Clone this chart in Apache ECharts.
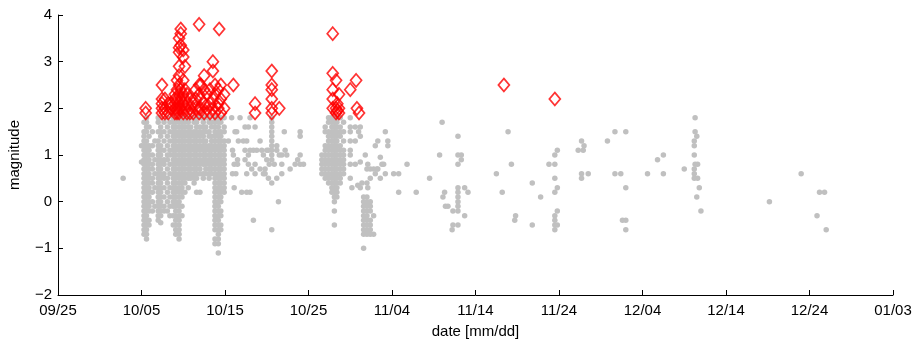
<!DOCTYPE html>
<html>
<head>
<meta charset="utf-8">
<title>magnitude vs date</title>
<script src="https://cdn.jsdelivr.net/npm/echarts@6.0.0/dist/echarts.min.js"></script>
<style>
  html, body { margin: 0; padding: 0; background: #fff; }
  #chart { width: 916px; height: 339px; }
</style>
</head>
<body>
<div id="chart"></div>
<script>
// x is days after 09/25, ticks every 10 days
const tickLabels = ['09/25', '10/05', '10/15', '10/25', '11/04', '11/14', '11/24', '12/04', '12/14', '12/24', '01/03']

// gray events, grouped by day: [day, [magnitudes]]
const grayCols = [
  [10.0, [1.2, 0.85]],
  [10.3, [1.7, 1.5, 1.4, 1.3, 1.2, 1.1, 1.0, 0.9, 0.8, 0.7, 0.6, 0.5, 0.4, 0.3, 0.2, 0.1, 0.0, -0.1, -0.2, -0.3, -0.4, -0.5, -0.6, -0.7]],
  [10.6, [1.8, 1.7, 1.6, 1.5, 1.3, 1.2, 1.1, 1.0, 0.9, 0.8, 0.7, 0.6, 0.5, 0.4, 0.3, 0.2, 0.1, 0.0, -0.1, -0.2, -0.3, -0.4, -0.5, -0.6, -0.7, -0.8]],
  [10.9, [1.6, 1.4, 1.2, 1.1, 1.0, 0.9, 0.8, 0.7, 0.6, 0.5, 0.4, 0.3, 0.2, 0.1, 0.0, -0.1, -0.2, -0.4, -0.5]],
  [11.3, [1.5, 1.2, 1.0, 0.8, 0.7, 0.5, 0.4, 0.2, 0.0, -0.2]],
  [11.6, [1.3, 0.9, 0.6, 0.3, -0.1]],
  [12.0, [1.8, 1.7, 1.5, 1.3, 1.2, 1.1, 1.0, 0.9, 0.8, 0.7, 0.6, 0.5, 0.4, 0.3, 0.2, 0.1, 0.0, -0.1, -0.2, -0.3, -0.4]],
  [12.3, [1.8, 1.6, 1.5, 1.4, 1.2, 1.1, 1.0, 0.9, 0.8, 0.7, 0.6, 0.5, 0.4, 0.3, 0.2, 0.1, 0.0, -0.1, -0.2, -0.3, -0.45]],
  [12.7, [1.7, 1.5, 1.3, 1.1, 0.9, 0.8, 0.6, 0.5, 0.3, 0.1, -0.1, -0.2]],
  [13.1, [1.8, 1.6, 1.4, 1.2, 1.0, 0.9, 0.7, 0.5, 0.4, 0.2, 0.0, -0.2]],
  [13.4, [1.7, 1.5, 1.3, 1.1, 1.0, 0.8, 0.6, 0.3, 0.1, -0.1, -0.3]],
  [13.8, [1.8, 1.7, 1.6, 1.5, 1.4, 1.3, 1.2, 1.1, 1.0, 0.9, 0.8, 0.7, 0.6, 0.5, 0.4, 0.3, 0.2, 0.1, 0.0, -0.1, -0.3, -0.5]],
  [14.1, [1.8, 1.7, 1.6, 1.5, 1.4, 1.3, 1.2, 1.1, 1.0, 0.9, 0.8, 0.7, 0.6, 0.5, 0.4, 0.3, 0.2, 0.1, 0.0, -0.1, -0.2, -0.3, -0.4, -0.5, -0.6, -0.7]],
  [14.5, [1.8, 1.7, 1.6, 1.5, 1.4, 1.3, 1.2, 1.1, 1.0, 0.9, 0.8, 0.7, 0.6, 0.5, 0.4, 0.3, 0.2, 0.1, 0.0, -0.1, -0.2, -0.3, -0.4, -0.5, -0.6, -0.7, -0.8]],
  [14.85, [1.8, 1.7, 1.6, 1.5, 1.4, 1.3, 1.2, 1.1, 1.0, 0.9, 0.8, 0.7, 0.6, 0.5, 0.4, 0.3, 0.2, 0.1, -0.1, -0.3]],
  [15.2, [1.8, 1.7, 1.6, 1.5, 1.4, 1.3, 1.2, 1.1, 1.0, 0.9, 0.8, 0.7, 0.6, 0.5, 0.4, 0.2]],
  [15.6, [1.8, 1.7, 1.6, 1.5, 1.4, 1.3, 1.2, 1.1, 1.0, 0.9, 0.8, 0.7, 0.6, 0.5, 0.3]],
  [15.9, [1.8, 1.6, 1.5, 1.4, 1.3, 1.2, 1.1, 1.0, 0.9, 0.8, 0.7, 0.6, 0.5]],
  [16.3, [1.8, 1.7, 1.5, 1.4, 1.3, 1.2, 1.1, 1.0, 0.9, 0.8, 0.7, 0.6, 0.5, 0.4]],
  [16.6, [1.8, 1.7, 1.6, 1.5, 1.4, 1.3, 1.2, 1.1, 1.0, 0.9, 0.8, 0.7, 0.6, 0.5, 0.2]],
  [17.0, [1.8, 1.6, 1.5, 1.4, 1.3, 1.2, 1.1, 1.0, 0.9, 0.8, 0.7, 0.6, 0.2]],
  [17.4, [1.8, 1.7, 1.6, 1.5, 1.4, 1.3, 1.2, 1.1, 1.0, 0.9, 0.8, 0.6, 0.5]],
  [17.7, [1.8, 1.6, 1.5, 1.3, 1.2, 1.1, 1.0, 0.9, 0.8, 0.7, 0.6]],
  [18.1, [1.8, 1.7, 1.5, 1.4, 1.2, 1.1, 1.0, 0.9, 0.8, 0.7, 0.6, 0.5]],
  [18.4, [1.7, 1.6, 1.4, 1.3, 1.2, 1.1, 1.0, 0.9, 0.8, 0.7, 0.6]],
  [18.8, [1.8, 1.7, 1.6, 1.5, 1.4, 1.3, 1.2, 1.1, 1.0, 0.9, 0.8, 0.7, 0.6, 0.5, 0.4, 0.3, 0.2, 0.1, 0.0, -0.1, -0.2, -0.3, -0.4, -0.5, -0.6, -0.8, -0.9]],
  [19.2, [1.8, 1.7, 1.6, 1.5, 1.4, 1.3, 1.2, 1.1, 1.0, 0.9, 0.8, 0.7, 0.6, 0.5, 0.4, 0.3, 0.2, 0.1, 0.0, -0.1, -0.2, -0.3, -0.4, -0.5, -0.6, -0.7, -0.8, -0.9, -1.1]],
  [19.5, [1.8, 1.7, 1.5, 1.4, 1.3, 1.2, 1.1, 1.0, 0.9, 0.8, 0.7, 0.6, 0.5, 0.4, 0.3, 0.2, 0.1, 0.0, -0.2, -0.3, -0.5, -0.6]],
  [19.9, [1.8, 1.6, 1.5, 1.3, 1.2, 1.1, 1.0, 0.9, 0.8, 0.7, 0.6, 0.5, 0.4, 0.3, 0.2]],
  [25.6, [1.8, 1.7, 1.6, 1.5, 1.4, 1.3, 1.2, 1.1, 1.0, 0.9]],
  [31.6, [1.0, 0.9, 0.8, 0.7, 0.6]],
  [32.0, [1.6, 1.5, 1.2, 1.1, 1.0, 0.9, 0.8, 0.7, 0.6, 0.5]],
  [32.4, [1.8, 1.7, 1.5, 1.4, 1.3, 1.2, 1.1, 1.0, 0.9, 0.8, 0.7, 0.6, 0.5, 0.4]],
  [32.8, [1.8, 1.7, 1.6, 1.5, 1.4, 1.3, 1.2, 1.1, 1.0, 0.9, 0.8, 0.7, 0.6, 0.5, 0.4, 0.3, 0.2]],
  [33.1, [1.8, 1.7, 1.6, 1.5, 1.4, 1.3, 1.2, 1.1, 1.0, 0.9, 0.8, 0.7, 0.6, 0.5, 0.4, 0.3, 0.2, 0.1, 0.0, -0.2, -0.5]],
  [33.4, [1.8, 1.7, 1.6, 1.5, 1.4, 1.3, 1.2, 1.1, 1.0, 0.9, 0.8, 0.7, 0.6, 0.5, 0.4, 0.3, 0.2, 0.1]],
  [33.8, [1.8, 1.6, 1.5, 1.4, 1.2, 1.1, 1.0, 0.9, 0.8, 0.7, 0.6, 0.5, 0.4]],
  [34.2, [1.7, 1.5, 1.3, 1.1, 1.0, 0.9, 0.8, 0.7, 0.6]],
  [36.6, [0.1, 0.0, -0.1, -0.2, -0.3, -0.4, -0.5, -0.6, -0.7, -1.0]],
  [37.0, [0.1, 0.0, -0.1, -0.2, -0.3, -0.4, -0.5, -0.6, -0.7]],
  [37.4, [0.0, -0.1, -0.2, -0.4, -0.5, -0.6, -0.7]],
  [37.8, [-0.3, -0.7]],
  [47.9, [0.3, 0.2, 0.1, 0.0, -0.1, -0.2]],
  [59.5, [-0.3, -0.4, -0.5, -0.6]],
  [76.2, [1.3, 1.2, 1.0, 0.7, 0.6, 0.5]],
]

// scattered gray events: [day, magnitude]
const grayDots = [
  [7.8, 0.5],
  [20.8, 1.8], [21.8, 1.8], [23.0, 1.8], [22.4, 1.6], [22.8, 1.6], [23.6, 1.6], [21.2, 1.5], [21.4, 1.5],
  [20.4, 1.3], [21.6, 1.3], [22.2, 1.3], [22.6, 1.3], [24.2, 1.3],
  [20.9, 1.1], [22.4, 1.1], [23.0, 1.1], [23.4, 1.1], [23.8, 1.1], [24.4, 1.1], [25.0, 1.1], [25.2, 1.1],
  [21.0, 1.0], [22.8, 1.0], [24.6, 1.0], [21.5, 0.9], [22.4, 0.9], [25.0, 0.9],
  [21.1, 0.8], [21.5, 0.8], [22.8, 0.8], [23.6, 0.8], [25.3, 0.8], [23.2, 0.7], [24.2, 0.7], [24.8, 0.7],
  [20.9, 0.6], [21.3, 0.6], [22.6, 0.6], [23.6, 0.6], [24.6, 0.6], [24.8, 0.6], [25.2, 0.5],
  [21.1, 0.3], [22.0, 0.2], [22.6, 0.2], [23.0, 0.2], [23.4, -0.4],
  [25.6, -0.6], [26.4, 0.0], [26.2, 1.2], [26.2, 1.1], [26.8, 1.0], [27.4, 1.0], [27.1, 1.5], [26.5, 1.0],
  [27.2, 1.1], [25.9, 0.8], [26.8, 0.8], [26.8, 0.6], [26.2, 0.5], [25.6, 0.4],
  [27.8, 0.7], [28.4, 0.8], [29.0, 0.8], [29.4, 0.8], [29.0, 1.0], [28.7, 0.9], [29.0, 1.5], [29.0, 1.4],
  [35.0, 1.8], [35.0, 1.6], [35.6, 1.6], [36.2, 1.6], [35.0, 1.5], [36.0, 1.5], [36.2, 1.4], [35.0, 1.3],
  [35.6, 1.3], [35.0, 1.1], [35.0, 1.0], [36.8, 1.0], [35.0, 0.8], [35.6, 0.8], [36.2, 0.85], [37.1, 0.8],
  [37.0, 0.7], [37.4, 0.7], [35.0, 0.5], [37.4, 0.5], [35.2, 0.3], [35.9, 0.35], [36.2, 0.3], [36.4, 0.4],
  [37.0, 0.4], [37.1, 0.3], [37.8, 0.7], [38.2, 0.7], [38.0, 0.6], [39.2, 0.6], [39.0, 0.8], [38.3, 1.3],
  [38.0, 1.2], [38.6, 0.95], [38.8, 0.8], [38.3, 0.7], [38.6, 0.5], [39.2, 1.5], [39.5, 1.3], [39.5, 1.2],
  [40.2, 0.6], [40.8, 0.6], [41.8, 0.8], [40.8, 0.2], [42.9, 0.2], [44.5, 0.5],
  [46.0, 1.7], [47.9, 1.4], [53.9, 1.5], [66.7, 1.5], [68.0, 1.5], [62.7, 1.3], [65.8, 1.3], [63.0, 1.2],
  [62.3, 1.1], [62.9, 1.1], [59.8, 1.1], [59.5, 1.0], [45.7, 1.0], [47.9, 1.0], [48.3, 1.0], [48.3, 0.9],
  [47.9, 0.8], [54.3, 0.8], [58.8, 0.8], [59.5, 0.8], [52.5, 0.6], [59.5, 0.5], [62.7, 0.6], [63.5, 0.6],
  [62.7, 0.5], [66.7, 0.6], [67.4, 0.6], [70.6, 0.6], [56.8, 0.4], [68.0, 0.3], [46.3, 0.2], [46.1, 0.1],
  [48.7, 0.3], [49.1, 0.2], [46.4, -0.1], [46.7, -0.1], [47.3, -0.2], [48.7, -0.3], [47.3, -0.5], [47.2, -0.6],
  [47.9, -0.5], [53.2, 0.2], [57.8, 0.1], [54.8, -0.3], [54.7, -0.4], [56.8, -0.5],
  [59.8, 0.3], [59.5, 0.2], [59.8, -0.2], [59.8, -0.5], [68.0, -0.4], [67.6, -0.4], [68.0, -0.6],
  [76.3, 1.8], [76.3, 1.5], [76.5, 1.4], [76.3, 0.8], [76.6, 0.8], [76.6, 0.5], [76.8, 0.3], [76.5, 0.1],
  [77.0, -0.2], [75.0, 0.7], [71.8, 0.9], [72.5, 1.0], [72.5, 0.6],
  [85.2, 0.0], [89.0, 0.6], [91.2, 0.2], [91.8, 0.2], [90.9, -0.3], [92.0, -0.6],
]

// larger events (red diamonds): [day, [magnitudes]]
const redCols = [
  [10.5, [2.0, 1.9]],
  [12.45, [2.5, 2.2, 2.1, 2.0, 1.9]],
  [12.8, [2.2, 2.0, 1.9]],
  [13.2, [2.1, 1.9]],
  [13.5, [2.1, 2.0]],
  [14.0, [2.3, 2.2, 2.1, 2.0, 1.9]],
  [14.25, [2.6, 2.4, 2.2, 2.0, 1.9]],
  [14.5, [3.5, 3.3, 3.2, 2.9, 2.7, 2.5, 2.3, 2.1, 2.0, 1.9]],
  [14.7, [3.7, 3.6, 3.35, 2.4, 2.2, 2.0]],
  [15.0, [3.25, 3.1, 2.6, 2.3, 2.1, 1.9]],
  [15.2, [2.9, 2.4, 2.2, 2.0]],
  [15.45, [2.3, 2.1, 1.9]],
  [15.8, [2.2, 2.0, 1.9]],
  [16.2, [2.1, 1.9]],
  [16.5, [2.4, 2.2, 2.0]],
  [16.9, [3.8, 2.5, 2.3, 2.0, 1.9]],
  [17.1, [2.5, 2.2, 2.0]],
  [17.5, [2.7, 2.4, 2.1, 1.9]],
  [17.85, [2.3, 2.0]],
  [18.2, [2.4, 2.1, 1.9]],
  [18.55, [3.0, 2.8, 2.2, 2.0]],
  [18.8, [2.5, 2.3, 1.9]],
  [19.2, [2.4, 2.1, 2.0]],
  [19.3, [3.7]],
  [19.5, [2.5, 2.2, 1.9]],
  [19.9, [2.3, 2.0]],
  [21.0, [2.5]],
  [23.6, [2.1, 1.9]],
  [25.6, [2.8, 2.5, 2.4, 2.2, 2.0, 1.9]],
  [26.5, [2.0]],
  [32.9, [3.6, 2.75, 2.4, 2.2, 2.0]],
  [33.3, [2.6, 2.0, 1.9]],
  [33.45, [2.1, 1.95]],
  [33.65, [2.3, 2.0, 1.9]],
  [35.0, [2.4]],
  [35.7, [2.6]],
  [35.8, [2.0]],
  [36.05, [1.9]],
  [53.4, [2.5]],
  [59.5, [2.2]],
]

const grayData = grayCols.flatMap(([d, ms]) => ms.map((m) => [d, m])).concat(grayDots)
const redData = redCols.flatMap(([d, ms]) => ms.map((m) => [d, m]))

const font = 'Liberation Sans, Arial, sans-serif'
const chart = echarts.init(document.getElementById('chart'))

chart.setOption({
  animation: false,
  backgroundColor: '#fff',
  grid: { left: 58, right: 23, top: 15, bottom: 44, containLabel: false, outerBoundsMode: 'none' },
  xAxis: {
    type: 'value',
    min: 0,
    max: 100,
    interval: 10,
    name: 'date [mm/dd]',
    nameLocation: 'middle',
    nameGap: 29,
    nameTextStyle: { color: '#000', fontSize: 15, fontFamily: font },
    axisLine: { onZero: false, lineStyle: { color: '#000', width: 1 } },
    axisTick: { inside: true, length: 5, lineStyle: { color: '#000' } },
    axisLabel: {
      color: '#000',
      fontSize: 15,
      fontFamily: font,
      margin: 8,
      formatter: (v) => tickLabels[Math.round(v / 10)],
    },
    splitLine: { show: false },
  },
  yAxis: {
    type: 'value',
    min: -2,
    max: 4,
    interval: 1,
    name: 'magnitude',
    nameLocation: 'middle',
    nameGap: 36,
    nameTextStyle: { color: '#000', fontSize: 15, fontFamily: font },
    axisLine: { show: true, lineStyle: { color: '#000', width: 1 } },
    axisTick: { show: true, inside: true, length: 5, lineStyle: { color: '#000' } },
    axisLabel: {
      color: '#000',
      fontSize: 15,
      fontFamily: font,
      margin: 6,
      formatter: (v) => String(v).replace('-', '\u2212'),
    },
    splitLine: { show: false },
  },
  series: [
    {
      type: 'scatter',
      data: grayData,
      symbol: 'circle',
      symbolSize: 5.5,
      itemStyle: { color: '#c0c0c0', opacity: 1 },
      silent: true,
    },
    {
      type: 'scatter',
      data: redData,
      symbol: 'diamond',
      symbolSize: [11, 13],
      itemStyle: { color: 'rgba(255,255,255,0)', borderColor: '#ff0000', borderWidth: 1.7 },
      silent: true,
    },
  ],
})
</script>
</body>
</html>
